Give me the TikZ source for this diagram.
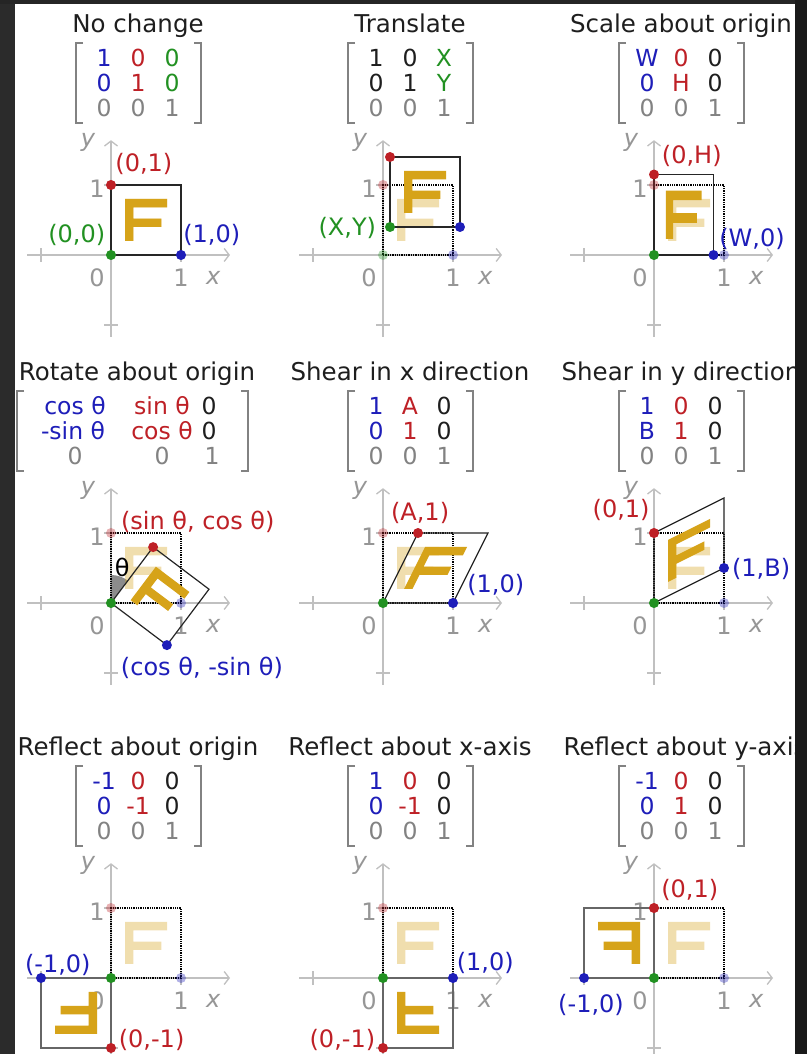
\documentclass[tikz,border=0pt]{standalone}
\usepackage{fontspec}
\setmainfont{DejaVu Sans}
\usetikzlibrary{arrows.meta}
\definecolor{cred}{RGB}{190,32,38}
\definecolor{cblue}{RGB}{30,30,185}
\definecolor{cgreen}{RGB}{34,145,34}
\definecolor{cgold}{RGB}{214,163,25}
\definecolor{axgray}{RGB}{192,192,192}
\definecolor{tgray}{RGB}{150,150,150}
\definecolor{mgray}{RGB}{130,130,130}
\definecolor{ink}{RGB}{30,30,30}
\definecolor{bgleft}{RGB}{43,43,43}
\definecolor{bgtop}{RGB}{37,37,37}
\definecolor{bgright}{RGB}{26,26,26}
\newcommand{\tR}{\color{cred}}
\newcommand{\tB}{\color{cblue}}
\newcommand{\tG}{\color{cgreen}}
\tikzset{
 axisline/.style={draw=axgray, line width=1.3pt},
 axarrow/.style={axisline, -{Straight Barb[length=5pt,width=13pt,line width=1.3pt]}},
 ticklab/.style={text=tgray, font=\fontsize{24}{24}\selectfont, inner sep=0pt},
 title/.style={font=\fontsize{24.5}{25}\selectfont, text=ink, inner sep=0pt, anchor=base},
 ment/.style={font=\fontsize{23.5}{24}\selectfont, text=ink, inner sep=0pt, anchor=base},
 ptlab/.style={font=\fontsize{24}{24}\selectfont, inner sep=0pt},
 bracket/.style={draw=mgray, line width=1.6pt},
 origsq/.style={draw=black, densely dotted, line width=1.3pt},
 newsq/.style={draw=black!85, line width=1.2pt},
 dot/.style={circle, inner sep=0pt, minimum size=10pt},
}
\newcommand{\drawF}[1]{\fill[#1] (0.2,0.2) -- (0.32,0.2) -- (0.32,0.4) -- (0.72,0.4) -- (0.72,0.52) -- (0.32,0.52) -- (0.32,0.68) -- (0.8,0.68) -- (0.8,0.8) -- (0.2,0.8) -- cycle;}
\newcommand{\axes}{%
 \draw[axarrow] (-1.2,0) -- (1.7,0);
 \draw[axarrow] (0,-1.17) -- (0,1.64);
 \draw[axisline] (-1,-0.1) -- (-1,0.1) (1,-0.1) -- (1,0.1) (-0.1,1) -- (0.1,1) (-0.1,-1) -- (0.1,-1);
 \node[ticklab] (\pfx-t0) at (-0.2,-0.33) {0};
 \node[ticklab] (\pfx-tx1) at (1,-0.33) {1};
 \node[ticklab] (\pfx-tx) at (1.46,-0.33) {\itshape x};
 \node[ticklab] (\pfx-ty1) at (-0.2,0.95) {1};
 \node[ticklab] (\pfx-ty) at (-0.33,1.61) {\itshape y};
}
\newcommand{\geo}[2]{%
 \drawF{cgold, fill opacity=0.35}
 \draw[origsq] (0,0) -- (1,0) -- (1,1) -- (0,1) -- cycle;
 \begin{scope}[#1]
  \drawF{cgold}
  \coordinate (\pfx-O) at (0,0);
  \coordinate (\pfx-P) at (1,0);
  \coordinate (\pfx-Q) at (0,1);
  \coordinate (\pfx-R) at (1,1);
 \end{scope}
 \draw[newsq, #2] (\pfx-O) -- (\pfx-P) -- (\pfx-R) -- (\pfx-Q) -- cycle;
 \node[dot, fill=cgreen, opacity=0.35] (\pfx-fo) at (0,0) {};
 \node[dot, fill=cblue, opacity=0.35] (\pfx-fp) at (1,0) {};
 \node[dot, fill=cred, opacity=0.35] (\pfx-fq) at (0,1) {};
 \node[dot, fill=cgreen] (\pfx-do) at (\pfx-O) {};
 \node[dot, fill=cblue] (\pfx-dp) at (\pfx-P) {};
 \node[dot, fill=cred] (\pfx-dq) at (\pfx-Q) {};
}
\newcommand{\stdmat}[9]{%
 \draw[bracket] (-28,212) -- (-35,212) -- (-35,132) -- (-28,132);
 \draw[bracket] (83,212) -- (90,212) -- (90,132) -- (83,132);
 \node[ment] (\pfx-m11) at (-7,188) {#1};
 \node[ment] (\pfx-m12) at (27,188) {#2};
 \node[ment] (\pfx-m13) at (61,188) {#3};
 \node[ment] (\pfx-m21) at (-7,163) {#4};
 \node[ment] (\pfx-m22) at (27,163) {#5};
 \node[ment] (\pfx-m23) at (61,163) {#6};
 \node[ment, text=mgray] (\pfx-m31) at (-7,138) {#7};
 \node[ment, text=mgray] (\pfx-m32) at (27,138) {#8};
 \node[ment, text=mgray] (\pfx-m33) at (61,138) {#9};
}
\begin{document}
\begin{tikzpicture}[x=1pt,y=1pt]
\useasboundingbox (0,0) rectangle (807,1054);
\clip (0,0) rectangle (807,1054);
\fill[white] (0,0) rectangle (807,1054);

% ---------- Panel 1: No change
\begin{scope}[shift={(111,799)}]
 \def\pfx{a}
 \node[title] (a-title) at (27,222) {No change};
 \stdmat{\tB 1}{\tR 0}{\tG 0}{\tB 0}{\tR 1}{\tG 0}{0}{0}{1}
 \begin{scope}[scale=70]
  \axes
  \geo{}{}
  \node[ptlab, text=cred] (a-l01) at (0.47,1.3) {(0,1)};
  \node[ptlab, text=cgreen] (a-l00) at (-0.49,0.29) {(0,0)};
  \node[ptlab, text=cblue] (a-l10) at (1.44,0.29) {(1,0)};
 \end{scope}
\end{scope}

% ---------- Panel 2: Translate
\begin{scope}[shift={(383,799)}]
 \def\pfx{b}
 \node[title] (b-title) at (27,222) {Translate};
 \stdmat{1}{0}{\tG X}{0}{1}{\tG Y}{0}{0}{1}
 \begin{scope}[scale=70]
  \axes
  \geo{shift={(0.1,0.4)}}{}
  \node[ptlab, text=cgreen] (b-lxy) at (-0.51,0.39) {(X,Y)};
 \end{scope}
\end{scope}

% ---------- Panel 3: Scale
\begin{scope}[shift={(654,799)}]
 \def\pfx{c}
 \node[title] (c-title) at (27,222) {Scale about origin};
 \stdmat{\tB W}{\tR 0}{0}{\tB 0}{\tR H}{0}{0}{0}{1}
 \begin{scope}[scale=70]
  \axes
  \geo{xscale=0.85,yscale=1.15}{}
  \node[ptlab, text=cred] (c-l0h) at (0.54,1.41) {(0,H)};
  \node[ptlab, text=cblue] (c-lw0) at (1.4,0.23) {(W,0)};
 \end{scope}
\end{scope}

% ---------- Panel 4: Rotate
\begin{scope}[shift={(111,451)}]
 \def\pfx{d}
 \node[title] (d-title) at (26,222) {Rotate about origin};
 \draw[bracket] (-87,212) -- (-94,212) -- (-94,132) -- (-87,132);
 \draw[bracket] (130,212) -- (137,212) -- (137,132) -- (130,132);
 \node[ment, text=cblue] (d-m11) at (-36,188) {cos θ};
 \node[ment, text=cred] (d-m12) at (51,188) {sin θ};
 \node[ment] (d-m13) at (98,188) {0};
 \node[ment, text=cblue] (d-m21) at (-38,163) {-sin θ};
 \node[ment, text=cred] (d-m22) at (51,163) {cos θ};
 \node[ment] (d-m23) at (98,163) {0};
 \node[ment, text=mgray] (d-m31) at (-36,138) {0};
 \node[ment, text=mgray] (d-m32) at (51,138) {0};
 \node[ment, text=mgray] (d-m33) at (101,138) {1};
 \begin{scope}[scale=70]
  \axes
  \fill[black!45] (0,0) -- (0,0.4) arc[start angle=90, end angle=53, radius=0.4] -- cycle;
  \geo{rotate=-37}{}
  \node[ptlab, text=black] (d-lth) at (0.16,0.51) {θ};
  \node[ptlab, text=cred] (d-lsc) at (1.24,1.16) {(sin θ, cos θ)};
  \node[ptlab, text=cblue] (d-lcs) at (1.3,-0.93) {(cos θ, -sin θ)};
 \end{scope}
\end{scope}

% ---------- Panel 5: Shear x
\begin{scope}[shift={(383,451)}]
 \def\pfx{e}
 \node[title] (e-title) at (27,222) {Shear in x direction};
 \stdmat{\tB 1}{\tR A}{0}{\tB 0}{\tR 1}{0}{0}{0}{1}
 \begin{scope}[scale=70]
  \axes
  \geo{xslant=0.5}{}
  \node[ptlab, text=cred] (e-la1) at (0.53,1.29) {(A,1)};
  \node[ptlab, text=cblue] (e-l10) at (1.61,0.26) {(1,0)};
 \end{scope}
\end{scope}

% ---------- Panel 6: Shear y
\begin{scope}[shift={(654,451)}]
 \def\pfx{f}
 \node[title] (f-title) at (27,222) {Shear in y direction};
 \stdmat{\tB 1}{\tR 0}{0}{\tB B}{\tR 1}{0}{0}{0}{1}
 \begin{scope}[scale=70]
  \axes
  \geo{yslant=0.5}{}
  \node[ptlab, text=cred] (f-l01) at (-0.47,1.33) {(0,1)};
  \node[ptlab, text=cblue] (f-l1b) at (1.53,0.49) {(1,B)};
 \end{scope}
\end{scope}

% ---------- Panel 7: Reflect origin
\begin{scope}[shift={(111,76)}]
 \def\pfx{g}
 \node[title] (g-title) at (27,222) {Reflect about origin};
 \stdmat{\tB -1}{\tR 0}{0}{\tB 0}{\tR -1}{0}{0}{0}{1}
 \begin{scope}[scale=70]
  \axes
  \geo{xscale=-1,yscale=-1}{draw=black!60}
  \node[ptlab, text=cblue] (g-lm10) at (-0.76,0.19) {(-1,0)};
  \node[ptlab, text=cred] (g-l0m1) at (0.58,-0.89) {(0,-1)};
 \end{scope}
\end{scope}

% ---------- Panel 8: Reflect x-axis
\begin{scope}[shift={(383,76)}]
 \def\pfx{h}
 \node[title] (h-title) at (27,222) {Reflect about x-axis};
 \stdmat{\tB 1}{\tR 0}{0}{\tB 0}{\tR -1}{0}{0}{0}{1}
 \begin{scope}[scale=70]
  \axes
  \geo{yscale=-1}{draw=black!60}
  \node[ptlab, text=cblue] (h-l10) at (1.46,0.21) {(1,0)};
  \node[ptlab, text=cred] (h-l0m1) at (-0.58,-0.89) {(0,-1)};
 \end{scope}
\end{scope}

% ---------- Panel 9: Reflect y-axis
\begin{scope}[shift={(654,76)}]
 \def\pfx{i}
 \node[title] (i-title) at (31,222) {Reflect about y-axis};
 \stdmat{\tB -1}{\tR 0}{0}{\tB 0}{\tR 1}{0}{0}{0}{1}
 \begin{scope}[scale=70]
  \axes
  \geo{xscale=-1}{draw=black!60}
  \node[ptlab, text=cred] (i-l01) at (0.51,1.26) {(0,1)};
  \node[ptlab, text=cblue] (i-lm10) at (-0.9,-0.39) {(-1,0)};
 \end{scope}
\end{scope}

% ---------- dark frame
\fill[bgleft] (0,0) rectangle (15,1054);
\fill[bgtop] (0,1050) rectangle (807,1054);
\fill[bgright] (795,0) rectangle (807,1054);
\end{tikzpicture}
\end{document}
